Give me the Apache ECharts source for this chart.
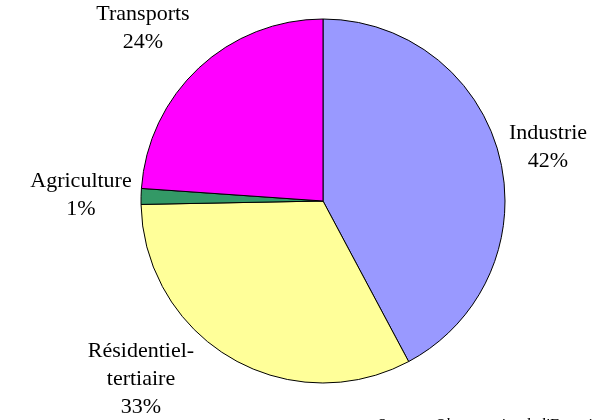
<!DOCTYPE html>
<html>
<head>
<meta charset="utf-8">
<script src="https://cdn.jsdelivr.net/npm/echarts@6/dist/echarts.min.js"></script>
<style>
    html, body { margin: 0; padding: 0; background: #ffffff; }
    #chart { width: 610px; height: 420px; }
</style>
</head>
<body>
<div id="chart"></div>
<script>
// secteurs (ordre horaire depuis midi)
const categories = ["Industrie", "Résidentiel-\ntertiaire", "Agriculture", "Transports"];
const shares = [42.2, 32.5, 1.4, 23.9];
const colors = ["#9999ff", "#ffff99", "#339966", "#ff00ff"];
const sourceText = "Source : Observatoire de l'Energie";

const chart = echarts.init(document.getElementById("chart"), null, { renderer: "canvas" });

// label placement, Excel-like (text centred, no leader lines)
const labelSpots = [
    [548, 147],
    [141, 379],
    [81, 195],
    [143, 28],
];

const data = categories.map((name, i) => ({
    name,
    value: shares[i],
    itemStyle: { color: colors[i] },
}));

const option = {
    animation: false,
    backgroundColor: "#ffffff",
    textStyle: { fontFamily: "Liberation Serif" },
    series: [
        {
            type: "pie",
            center: [323, 201],
            radius: [0, 182],
            startAngle: 90,
            clockwise: true,
            percentPrecision: 0,
            avoidLabelOverlap: false,
            data,
            itemStyle: {
                borderColor: "#000000",
                borderWidth: 1,
            },
            label: {
                show: true,
                position: "outside",
                formatter: "{b}\n{d}%",
                fontFamily: "Liberation Serif",
                fontSize: 22,
                lineHeight: 28,
                color: "#000000",
                align: "center",
            },
            labelLine: { show: false },
            labelLayout: (params) => {
                const spot = labelSpots[params.dataIndex];
                return {
                    x: spot[0],
                    y: spot[1],
                    align: "center",
                    verticalAlign: "middle",
                };
            },
            emphasis: { disabled: true },
        },
    ],
    graphic: [
        {
            type: "text",
            left: 377,
            top: 418,
            style: {
                text: sourceText,
                font: "italic 16px 'Liberation Serif'",
                fill: "#000000",
            },
        },
    ],
};

chart.setOption(option);
</script>
</body>
</html>
